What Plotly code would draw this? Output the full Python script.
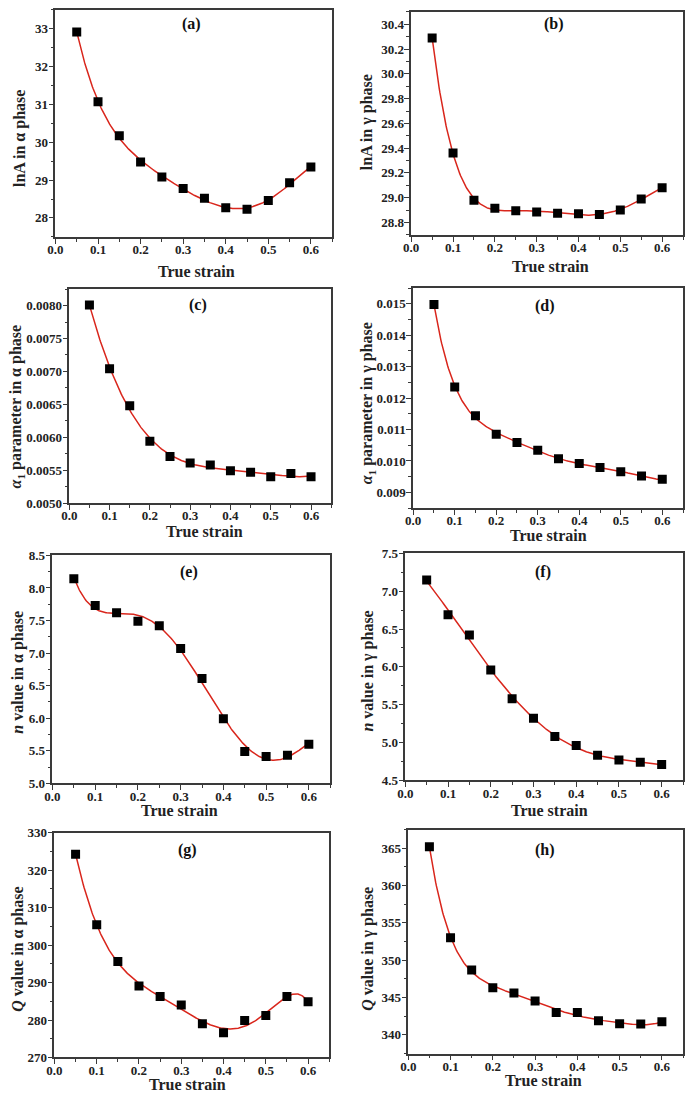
import numpy as np
import plotly.graph_objects as go

# ---------------- data ----------------
strain = [0.05, 0.10, 0.15, 0.20, 0.25, 0.30, 0.35, 0.40, 0.45, 0.50, 0.55, 0.60]

lnA_alpha = [32.92, 31.07, 30.17, 29.48, 29.08, 28.78, 28.52, 28.27, 28.23, 28.46, 28.93, 29.35]
lnA_gamma = [30.29, 29.36, 28.98, 28.915, 28.895, 28.885, 28.875, 28.87, 28.865, 28.90, 28.99, 29.08]
alpha1_alpha = [0.00801, 0.00704, 0.00648, 0.00594, 0.00571, 0.00561, 0.00558, 0.00549, 0.00547, 0.00540, 0.00545, 0.00540]
alpha1_gamma = [0.01498, 0.01235, 0.01144, 0.01085, 0.01059, 0.01034, 0.01007, 0.00992, 0.00979, 0.00966, 0.00952, 0.00942]
n_alpha = [8.14, 7.73, 7.62, 7.49, 7.42, 7.07, 6.61, 5.99, 5.49, 5.41, 5.43, 5.60]
n_gamma = [7.15, 6.69, 6.42, 5.96, 5.58, 5.32, 5.08, 4.96, 4.83, 4.77, 4.74, 4.71]
Q_alpha = [324.2, 305.4, 295.6, 289.1, 286.3, 284.0, 279.0, 276.6, 279.9, 281.2, 286.3, 284.9]
Q_gamma = [365.2, 353.0, 348.7, 346.3, 345.6, 344.55, 343.0, 343.0, 341.9, 341.5, 341.45, 341.76]

panel_labels = ["(a)", "(b)", "(c)", "(d)", "(e)", "(f)", "(g)", "(h)"]
y_titles = [
    "lnA in α phase",
    "lnA in γ phase",
    "<i>α</i><sub>1</sub> parameter in α phase",
    "<i>α</i><sub>1</sub> parameter in γ phase",
    "<i>n</i> value in α phase",
    "<i>n</i> value in γ phase",
    "<i>Q</i> value in α phase",
    "<i>Q</i> value in γ phase",
]
x_title = "True strain"
series = [lnA_alpha, lnA_gamma, alpha1_alpha, alpha1_gamma, n_alpha, n_gamma, Q_alpha, Q_gamma]
fit_degree = [5, 6, 5, 6, 5, 4, 6, 6]

# ---------------- layout / style ----------------
W, H = 685, 1101
FONT = "Liberation Serif, Times New Roman, serif"
AX = "#3a3a3a"
RED = "#d9261c"

# plot-area boxes in pixels (left, right, top, bottom)
boxes = [(48, 328, 3, 233), (408, 683, 5, 231),
         (62, 327, 286, 503), (410, 683, 285, 508),
         (45, 326, 556, 787), (402, 683, 554, 784),
         (47, 325, 837, 1065), (405, 683, 834, 1061)]
y_ranges = [(27.5, 33.5), (28.7, 30.5), (0.005, 0.00825), (0.0085, 0.0155),
            (5.0, 8.5), (4.5, 7.5), (270, 330), (337.5, 367.5)]
y_dticks = [1, 0.2, 0.0005, 0.001, 0.5, 0.5, 10, 5]
y_formats = [".0f", ".1f", ".4f", ".3f", ".1f", ".1f", ".0f", ".0f"]
# label / title positions in pixels
lab_pos = [(186, 17), (552, 17), (192, 302), (543, 303), (183, 573), (541, 573), (182, 855), (543, 855)]
xt_pos = [(191, 268), (549, 263), (199, 532), (547, 536), (174, 815), (548, 815), (182, 1092), (542, 1088)]
yt_pos = [(12, 133), (364, 117), (9, 405), (364, 402), (10, 674), (364, 673), (10, 955), (364, 955)]


def px_x(p):
    return p / W


def px_y(p):
    return 1 - p / H


fig = go.Figure()
annotations = []
layout_axes = {}

for i in range(8):
    k = "" if i == 0 else str(i + 1)
    l, r, t, b = boxes[i]
    y = series[i]
    poly = np.polynomial.Polynomial.fit(strain, y, fit_degree[i])
    xs = np.linspace(min(strain), max(strain), 300)
    fig.add_trace(go.Scatter(x=xs, y=poly(xs), mode="lines",
                             line=dict(color=RED, width=1.5),
                             xaxis="x" + k, yaxis="y" + k, showlegend=False,
                             hoverinfo="skip"))
    fig.add_trace(go.Scatter(x=strain, y=y, mode="markers",
                             marker=dict(symbol="square", size=9, color="black"),
                             xaxis="x" + k, yaxis="y" + k, showlegend=False))

    common = dict(showline=True, mirror=True, linecolor=AX, linewidth=1.5,
                  ticks="outside", ticklen=5, tickwidth=1.2, tickcolor=AX,
                  showgrid=False, zeroline=False,
                  tickfont=dict(family=FONT, size=13, color="#222", weight="bold"))
    layout_axes["xaxis" + k] = dict(
        common, domain=[px_x(l), px_x(r)], anchor="y" + k,
        range=[0, 0.65], tick0=0, dtick=0.1, tickformat=".1f",
        ticklabelstandoff=-5,
        minor=dict(ticks="outside", ticklen=3, dtick=0.05, tickcolor=AX, tickwidth=1),
    )
    layout_axes["yaxis" + k] = dict(
        common, domain=[px_y(b), px_y(t)], anchor="x" + k,
        range=list(y_ranges[i]), tick0=0,
        dtick=y_dticks[i], tickformat=y_formats[i],
        ticklabelstandoff=-2,
        minor=dict(ticks="outside", ticklen=3, dtick=y_dticks[i] / 2, tickcolor=AX, tickwidth=1),
    )

    annotations.append(dict(text="<b>" + panel_labels[i] + "</b>", x=px_x(lab_pos[i][0]),
                            y=px_y(lab_pos[i][1]), xref="paper", yref="paper",
                            showarrow=False, xanchor="center", yanchor="middle",
                            font=dict(family=FONT, size=16, color="#111")))
    annotations.append(dict(text="<b>" + x_title + "</b>", x=px_x(xt_pos[i][0]),
                            y=px_y(xt_pos[i][1]), xref="paper", yref="paper",
                            showarrow=False, xanchor="center", yanchor="middle",
                            font=dict(family=FONT, size=16, color="#222")))
    annotations.append(dict(text="<b>" + y_titles[i] + "</b>", x=px_x(yt_pos[i][0]),
                            y=px_y(yt_pos[i][1]), xref="paper", yref="paper",
                            showarrow=False, xanchor="center", yanchor="middle",
                            textangle=-90,
                            font=dict(family=FONT, size=16, color="#222")))

fig.update_layout(width=W, height=H, margin=dict(l=0, r=0, t=0, b=0),
                  paper_bgcolor="white", plot_bgcolor="white",
                  annotations=annotations, **layout_axes)

fig.write_html("out.html", config={"displayModeBar": False},
               post_script="document.body.style.margin='0';document.body.style.overflow='hidden';")
